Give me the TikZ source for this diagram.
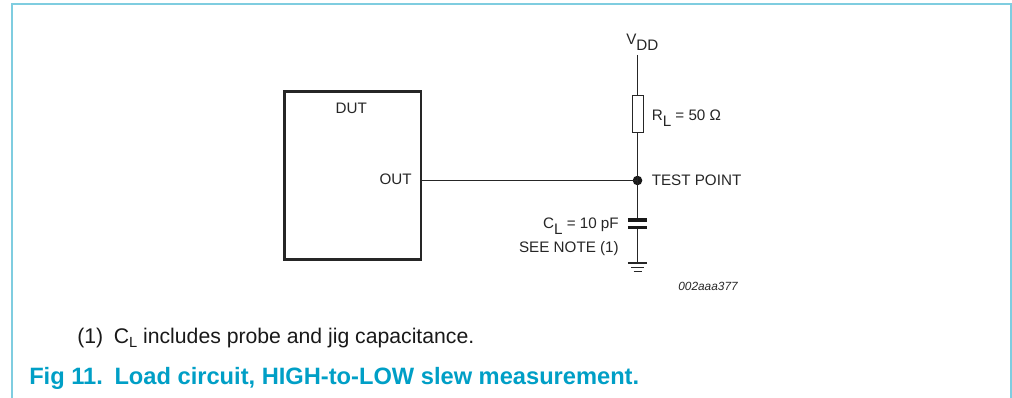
\documentclass[tikz,border=0pt]{standalone}
\usepackage{fontspec}
\setmainfont{Liberation Sans}
\definecolor{frameblue}{HTML}{7FCDE0}
\definecolor{capblue}{HTML}{009FC6}
\newcommand{\lowsub}[1]{\raisebox{-0.38em}{#1}}
\begin{document}
\begin{tikzpicture}[x=0.75pt,y=-0.75pt,
  lab/.style={inner sep=0pt,font=\fontsize{11.4}{14}\selectfont,text=black!85},
  wire/.style={draw=black!85,line width=0.8pt},
  comp/.style={draw=black!85,line width=0.7pt,fill=white,inner sep=0pt,minimum width=8.2pt,minimum height=27.2pt},
  plate/.style={draw=black!90,line width=2.3pt}]
\useasboundingbox (0,0) rectangle (1012,398);
\fill[white] (0,0) rectangle (1012,398);
\draw[frameblue,line width=1.4pt] (12,398) -- (12,4) -- (1011.3,4) -- (1011.3,398);
% DUT
\node[draw=black!85,line width=1.7pt,minimum width=102.4pt,minimum height=126pt,inner sep=0pt] (dut) at (352.8,175.5) {};
\node[lab,anchor=base] (dutl) at (351.3,113.5) {DUT};
\node[lab,anchor=base east] (outl) at (412,185) {OUT};
% coordinates
\coordinate (vtop) at (637.5,55);
\coordinate (out) at (dut.east |- 0,180.5);
\node[comp] (rl) at (637.5,114) {};
\node[circle,fill=black!90,inner sep=0pt,minimum size=7.2pt] (tp) at (637.5,180.5) {};
\coordinate (c1) at (637.5,220);
\coordinate (c2) at (637.5,227.5);
\coordinate (g) at (637.5,263);
\draw[wire] (vtop) -- (rl.north);
\draw[wire] (rl.south) -- (tp.center);
\draw[wire] (out) -- (tp.center);
\draw[wire] (tp.center) -- (c1);
\draw[wire] (c2) -- (g);
\draw[plate] ([xshift=-7.2pt]c1) -- ([xshift=7.2pt]c1);
\draw[plate] ([xshift=-7.2pt]c2) -- ([xshift=7.2pt]c2);
\draw[wire] ([xshift=-7.2pt]g) -- ([xshift=7.2pt]g);
\draw[wire,line width=0.7pt] (631,267) -- (644,267);
\draw[wire,line width=0.7pt] (633.5,271) -- (641.5,271);
% labels
\node[lab,anchor=base west] (vdd) at (626,45) {V\lowsub{DD}};
\node[lab,anchor=base west] (rlab) at (651.5,120.7) {R\lowsub{L} = 50 Ω};
\node[lab,anchor=base west] (tpl) at (651.5,185.5) {TEST POINT};
\node[lab,anchor=base east] (cl) at (619,228.3) {C\lowsub{L} = 10 pF};
\node[lab,anchor=base east] (note) at (619,252.3) {SEE NOTE (1)};
\node[lab,anchor=base east,font=\fontsize{8.9}{11}\selectfont\itshape] (code) at (738,290.7) {002aaa377};
\node[inner sep=0pt,anchor=base west,font=\fontsize{15.9}{18}\selectfont,text=black!90] (fn) at (77,344) {(1)\hspace{0.5em}C\raisebox{-0.18em}{\fontsize{11}{12}\selectfont L} includes probe and jig capacitance.};
\node[inner sep=0pt,anchor=base west,font=\fontsize{17.75}{20}\selectfont\bfseries,text=capblue] (cap) at (29,384) {Fig 11.\hspace{0.49em}Load circuit, HIGH-to-LOW slew measurement.};
\end{tikzpicture}
\end{document}
